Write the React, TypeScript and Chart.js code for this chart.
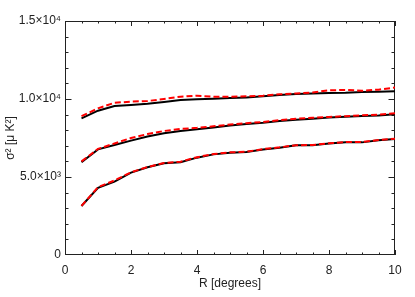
import React, { useEffect, useRef } from "react";
import { Chart, registerables } from "chart.js";

Chart.register(...registerables);

const radiusDeg = [0.5, 1, 1.5, 2, 2.5, 3, 3.5, 4, 4.5, 5, 5.5, 6, 6.5, 7, 7.5, 8, 8.5, 9, 9.5, 10];

const topBlack = [8760, 9250, 9550, 9620, 9700, 9810, 9940, 9980, 10020, 10060, 10100, 10170, 10250, 10320, 10360, 10380, 10400, 10450, 10470, 10490];
const topRed = [8900, 9400, 9760, 9830, 9870, 10000, 10150, 10210, 10150, 10150, 10170, 10210, 10300, 10350, 10420, 10560, 10580, 10530, 10600, 10730];
const midBlack = [5940, 6770, 7050, 7330, 7600, 7800, 7950, 8060, 8180, 8300, 8400, 8480, 8590, 8670, 8740, 8820, 8870, 8910, 8950, 9020];
const midRed = [6000, 6800, 7150, 7500, 7750, 7950, 8080, 8150, 8250, 8360, 8450, 8530, 8640, 8740, 8800, 8850, 8900, 8950, 9000, 9080];
const lowBlack = [3140, 4300, 4700, 5280, 5620, 5880, 5940, 6240, 6450, 6560, 6600, 6770, 6880, 7030, 7030, 7140, 7220, 7220, 7350, 7440];
const lowRed = [3150, 4350, 4780, 5300, 5640, 5900, 5980, 6270, 6470, 6580, 6620, 6790, 6900, 7040, 7050, 7160, 7240, 7250, 7370, 7460];

const yTickLabels: Record<number, string> = { 0: "0", 5000: "5.0×10³", 10000: "1.0×10⁴", 15000: "1.5×10⁴" };
const xTickValues = [0, 2, 4, 6, 8, 10];
const xMinorValues = [0.5, 1, 1.5, 2.5, 3, 3.5, 4.5, 5, 5.5, 6.5, 7, 7.5, 8.5, 9, 9.5];
const yMajorValues = [5000, 10000];
const yMinorValues = [1000, 2000, 3000, 4000, 6000, 7000, 8000, 9000, 11000, 12000, 13000, 14000];

const FONT = "'Liberation Sans', Arial, sans-serif";
const AXIS_COLOR = "#222";

const toPts = (ys: number[]) => ys.map((y, i) => ({ x: radiusDeg[i], y }));

const framePlugin = {
  id: "frame",
  beforeDatasetsDraw(chart: any) {
    const { ctx, chartArea: a, scales } = chart;
    const xs = scales.x;
    const ys = scales.y;
    ctx.save();
    ctx.strokeStyle = AXIS_COLOR;
    ctx.lineWidth = 1;
    ctx.strokeRect(a.left + 0.5, a.top + 0.5, a.right - a.left - 1, a.bottom - a.top - 1);
    ctx.beginPath();
    const xMaj = 5, xMin = 2.5, yMaj = 6.5, yMin = 3.5;
    xTickValues.forEach((v) => {
      const p = Math.round(xs.getPixelForValue(v)) + 0.5;
      ctx.moveTo(p, a.bottom); ctx.lineTo(p, a.bottom - xMaj);
      ctx.moveTo(p, a.top); ctx.lineTo(p, a.top + xMaj);
    });
    xMinorValues.forEach((v) => {
      const p = Math.round(xs.getPixelForValue(v)) + 0.5;
      ctx.moveTo(p, a.bottom); ctx.lineTo(p, a.bottom - xMin);
      ctx.moveTo(p, a.top); ctx.lineTo(p, a.top + xMin);
    });
    yMajorValues.forEach((v) => {
      const p = Math.round(ys.getPixelForValue(v)) + 0.5;
      ctx.moveTo(a.left, p); ctx.lineTo(a.left + yMaj, p);
      ctx.moveTo(a.right, p); ctx.lineTo(a.right - yMaj, p);
    });
    yMinorValues.forEach((v) => {
      const p = Math.round(ys.getPixelForValue(v)) + 0.5;
      ctx.moveTo(a.left, p); ctx.lineTo(a.left + yMin, p);
      ctx.moveTo(a.right, p); ctx.lineTo(a.right - yMin, p);
    });
    ctx.stroke();
    ctx.restore();
  },
};

export default function App() {
  const ref = useRef<HTMLCanvasElement | null>(null);
  useEffect(() => {
    document.body.style.margin = "0";
    const blackLine = (data: number[]) => ({
      data: toPts(data),
      borderColor: "#000",
      borderWidth: 2,
      pointRadius: 0,
      tension: 0,
      fill: false,
      order: 2,
    });
    const redLine = (data: number[]) => ({
      data: toPts(data),
      borderColor: "#ff0000",
      borderWidth: 2,
      borderDash: [6, 3],
      pointRadius: 0,
      tension: 0,
      fill: false,
      order: 1,
    });
    const chart = new Chart(ref.current as HTMLCanvasElement, {
      type: "line",
      data: {
        datasets: [
          blackLine(topBlack),
          blackLine(midBlack),
          blackLine(lowBlack),
          redLine(topRed),
          redLine(midRed),
          redLine(lowRed),
        ] as any,
      },
      options: {
        animation: false,
        responsive: true,
        maintainAspectRatio: false,
        layout: { padding: { top: 21, right: 20, left: 0, bottom: 0 } },
        plugins: { legend: { display: false }, tooltip: { enabled: false } },
        scales: {
          x: {
            type: "linear",
            min: 0,
            max: 10,
            grid: { display: false, drawTicks: false },
            border: { display: false },
            ticks: {
              stepSize: 2,
              maxRotation: 0,
              padding: 8,
              color: AXIS_COLOR,
              font: { family: FONT, size: 12 },
              callback: (v: any) => String(v),
            },
            title: {
              display: true,
              text: "R [degrees]",
              color: AXIS_COLOR,
              font: { family: FONT, size: 12 },
              padding: { top: 0, bottom: 6 },
            },
            afterFit: (s: any) => { s.height = 42; },
          },
          y: {
            min: 0,
            max: 15000,
            grid: { display: false, drawTicks: false },
            border: { display: false },
            ticks: {
              stepSize: 5000,
              padding: 4,
              color: AXIS_COLOR,
              font: { family: FONT, size: 12 },
              callback: (v: any) => yTickLabels[v as number] ?? "",
            },
            title: {
              display: true,
              text: "σ² [μ K²]",
              color: AXIS_COLOR,
              font: { family: FONT, size: 12 },
              padding: { top: 3, bottom: 0 },
            },
            afterFit: (s: any) => { s.width = 65; },
          },
        },
      },
      plugins: [framePlugin],
    });
    return () => chart.destroy();
  }, []);
  return (
    <div style={{ position: "fixed", left: 0, top: 0, width: 415, height: 297 }}>
      <canvas ref={ref} />
    </div>
  );
}
